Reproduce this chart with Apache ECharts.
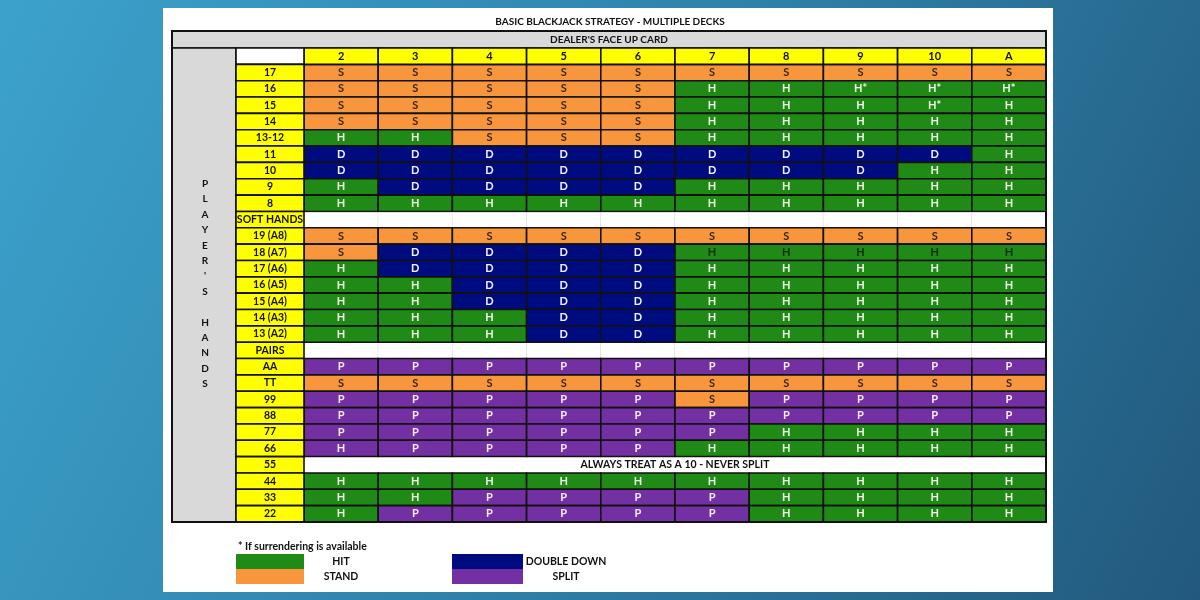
<!DOCTYPE html>
<html>
<head>
<meta charset="utf-8">
<style>html,body{margin:0;padding:0;}#main{width:1200px;height:600px;}</style>
<script src="https://cdn.jsdelivr.net/npm/echarts@6/dist/echarts.min.js"></script>
</head>
<body>
<div id="main"></div>
<script>
// ---------------- DATA ----------------
const chartTitle = 'BASIC BLACKJACK STRATEGY - MULTIPLE DECKS';
const dealerTitle = "DEALER'S FACE UP CARD";
const sideTitle = "P\nL\nA\nY\nE\nR\n'\nS\n\nH\nA\nN\nD\nS";
const dealerCards = ['2','3','4','5','6','7','8','9','10','A'];
const handLabels = ['17','16','15','14','13-12','11','10','9','8','SOFT HANDS',
  '19 (A8)','18 (A7)','17 (A6)','16 (A5)','15 (A4)','14 (A3)','13 (A2)','PAIRS',
  'AA','TT','99','88','77','66','55','44','33','22'];
// cell colour per hand row: H hit, S stand, D double down, P split, - blank row, = merged note row
const cellColours = [
  'SSSSSSSSSS','SSSSSHHHHH','SSSSSHHHHH','SSSSSHHHHH','HHSSSHHHHH',
  'DDDDDDDDDH','DDDDDDDDHH','HDDDDHHHHH','HHHHHHHHHH','----------',
  'SSSSSSSSSS','SDDDDHHHHH','HDDDDHHHHH','HHDDDHHHHH','HHDDDHHHHH',
  'HHHDDHHHHH','HHHDDHHHHH','----------',
  'PPPPPPPPPP','SSSSSSSSSS','PPPPPSPPPP','PPPPPPPPPP','PPPPPPHHHH',
  'PPPPPHHHHH','==========','HHHHHHHHHH','HHPPPPHHHH','HPPPPPHHHH'
];
// text written in each cell
const cellTexts = [
  'S S S S S S S S S S','S S S S S H H H* H* H*','S S S S S H H H H* H','S S S S S H H H H H','H H S S S H H H H H',
  'D D D D D D D D D H','D D D D D D D D H H','H D D D D H H H H H','H H H H H H H H H H','',
  'S S S S S S S S S S','S D D D D H H H H H','H D D D D H H H H H','H H D D D H H H H H','H H D D D H H H H H',
  'H H H D D H H H H H','H H H D D H H H H H','',
  'P P P P P P P P P P','S S S S S S S S S S','P P P P P S P P P P','P P P P P P P P P P','P P P P P P H H H H',
  'H P P P P H H H H H','','H H H H H H H H H H','H H P P P P H H H H','H P P P P P H H H H'
];
const darkTextRows = ['18 (A7)'];
const mergedNote = 'ALWAYS TREAT AS A 10 - NEVER SPLIT';
const footNote = '* If surrendering is available';
const legendItems = [['H','HIT'],['S','STAND'],['D','DOUBLE DOWN'],['P','SPLIT']];

// ---------------- STYLE ----------------
const colourOf = {H:'#1f8a15', S:'#f7963c', D:'#000b80', P:'#7230a2'};
const textColourOf = {H:'#f2f7ea', S:'#3a2414', D:'#f4f4ff', P:'#f8eefa'};
const YELLOW = '#ffff00', GRAY = '#d9d9d9', LINE = '#111111';
const FONT = 'bold 11px Lato, "Open Sans", sans-serif';
const HEAD_FONT = 'bold 10px Lato, sans-serif';
const LABEL_W = 68;

const yCats = ['HEADER'].concat(handLabels);

// build cell list from the arrays
const cells = [];
handLabels.forEach((lab, r) => {
  const cols = cellColours[r];
  const txt = cellTexts[r] ? cellTexts[r].split(' ') : [];
  for (let c = 0; c < dealerCards.length; c++) {
    cells.push({value: [c, r + 1], code: cols[c], text: txt[c] || '', dark: darkTextRows.indexOf(lab) >= 0});
  }
});

const chart = echarts.init(document.getElementById('main'));

function cellRect(api, c, r) {
  const p = api.coord([c, r]);
  const s = api.size([1, 1]);
  return {x: p[0] - s[0] / 2, y: p[1] - s[1] / 2, w: s[0], h: s[1], cx: p[0], cy: p[1]};
}

const option = {
  animation: false,
  backgroundColor: {type:'linear', x:0, y:0, x2:1, y2:1,
    colorStops:[{offset:0, color:'#3ca2cc'},{offset:0.55, color:'#2e7ea6'},{offset:1, color:'#22587d'}]},
  grid: {left: 304, right: 154, top: 48, bottom: 78},
  xAxis: {type:'category', data: dealerCards, show:false},
  yAxis: {type:'category', data: yCats, inverse:true, show:false},
  graphic: [
    {type:'rect', z:-10, shape:{x:163, y:8, width:890, height:584}, style:{fill:'#ffffff'}},
    {type:'text', z:10, x:610, y:22, style:{text:chartTitle, font:HEAD_FONT, fill:'#111', align:'center', verticalAlign:'middle'}},
    {type:'rect', z:-5, shape:{x:172, y:31, width:874, height:17}, style:{fill:GRAY, stroke:LINE, lineWidth:1.6}},
    {type:'text', z:10, x:609, y:39.5, style:{text:dealerTitle, font:HEAD_FONT, fill:'#111', align:'center', verticalAlign:'middle'}},
    {type:'rect', z:-5, shape:{x:172, y:48, width:64, height:474}, style:{fill:GRAY, stroke:LINE, lineWidth:1.6}},
    {type:'text', z:10, x:205, y:176, style:{text:sideTitle, font:'bold 10px Lato, sans-serif', fill:'#111', align:'center', verticalAlign:'top', lineHeight:15.4}},
    {type:'rect', z:100, shape:{x:172, y:31, width:874, height:491}, style:{fill:null, stroke:LINE, lineWidth:2}},
    // legend
    {type:'text', z:10, x:238, y:547, style:{text:footNote, font:'bold 10.5px Lato, sans-serif', fill:'#111', align:'left', verticalAlign:'middle'}},
    {type:'rect', shape:{x:236, y:554, width:68, height:15}, style:{fill:colourOf[legendItems[0][0]]}},
    {type:'rect', shape:{x:236, y:569, width:68, height:15}, style:{fill:colourOf[legendItems[1][0]]}},
    {type:'rect', shape:{x:452, y:554, width:71, height:15}, style:{fill:colourOf[legendItems[2][0]]}},
    {type:'rect', shape:{x:452, y:569, width:71, height:15}, style:{fill:colourOf[legendItems[3][0]]}},
    {type:'text', x:341, y:562, style:{text:legendItems[0][1], font:'bold 10.5px Lato, sans-serif', fill:'#111', align:'center', verticalAlign:'middle'}},
    {type:'text', x:341, y:577, style:{text:legendItems[1][1], font:'bold 10.5px Lato, sans-serif', fill:'#111', align:'center', verticalAlign:'middle'}},
    {type:'text', x:566, y:562, style:{text:legendItems[2][1], font:'bold 10.5px Lato, sans-serif', fill:'#111', align:'center', verticalAlign:'middle'}},
    {type:'text', x:566, y:577, style:{text:legendItems[3][1], font:'bold 10.5px Lato, sans-serif', fill:'#111', align:'center', verticalAlign:'middle'}}
  ],
  series: [
    {
      name:'dealer header', type:'custom', z:3,
      data: dealerCards.map((d, c) => [c, 0]),
      renderItem(params, api) {
        const b = cellRect(api, api.value(0), api.value(1));
        return {type:'group', children:[
          {type:'rect', shape:{x:b.x, y:b.y, width:b.w, height:b.h}, style:{fill:YELLOW, stroke:LINE, lineWidth:1.6}},
          {type:'text', x:b.cx, y:b.cy, style:{text:dealerCards[params.dataIndex], font:FONT, fill:'#111', align:'center', verticalAlign:'middle'}}
        ]};
      }
    },
    {
      name:'hand labels', type:'custom', z:3,
      data: yCats.map((h, r) => [0, r]),
      renderItem(params, api) {
        const b = cellRect(api, api.value(0), api.value(1));
        const r = params.dataIndex;
        return {type:'group', children:[
          {type:'rect', shape:{x:b.x - LABEL_W, y:b.y, width:LABEL_W, height:b.h}, style:{fill: r === 0 ? '#ffffff' : YELLOW, stroke:LINE, lineWidth:1.6}},
          {type:'text', x:b.x - LABEL_W / 2, y:b.cy, style:{text: r === 0 ? '' : yCats[r], font:'bold 10.5px Lato, sans-serif', fill:'#111', align:'center', verticalAlign:'middle'}}
        ]};
      }
    },
    {
      name:'strategy', type:'custom', z:2,
      data: cells.map(c => c.value),
      renderItem(params, api) {
        const cell = cells[params.dataIndex];
        const c = api.value(0), r = api.value(1);
        const b = cellRect(api, c, r);
        if (cell.code === '=') {
          if (c !== 0) return null;
          const n = dealerCards.length;
          return {type:'group', children:[
            {type:'rect', shape:{x:b.x + 1, y:b.y + 1, width:b.w * n - 2, height:b.h - 2}, style:{fill:'#ffffff'}},
            {type:'text', x:b.x + b.w * n / 2, y:b.cy, style:{text:mergedNote, font:'bold 10.5px Lato, sans-serif', fill:'#111', align:'center', verticalAlign:'middle'}}
          ]};
        }
        if (cell.code === '-') {
          const kids = [{type:'rect', shape:{x:b.x, y:b.y + 1, width:b.w, height:b.h - 2}, style:{fill:'#ffffff'}}];
          if (c < dealerCards.length - 1) {
            kids.push({type:'line', shape:{x1:b.x + b.w, y1:b.y + 1, x2:b.x + b.w, y2:b.y + b.h - 1}, style:{stroke:'#cfcfcf', lineWidth:1}});
          }
          return {type:'group', children:kids};
        }
        let tc = textColourOf[cell.code];
        if (cell.dark && cell.code === 'H') tc = '#0d2a08';
        return {type:'group', children:[
          {type:'rect', shape:{x:b.x, y:b.y, width:b.w, height:b.h}, style:{fill:colourOf[cell.code], stroke:LINE, lineWidth:1.6}},
          {type:'text', x:b.cx, y:b.cy, style:{text:cell.text, font:FONT, fill:tc, align:'center', verticalAlign:'middle'}}
        ]};
      }
    }
  ]
};
chart.setOption(option);
</script>
</body>
</html>
